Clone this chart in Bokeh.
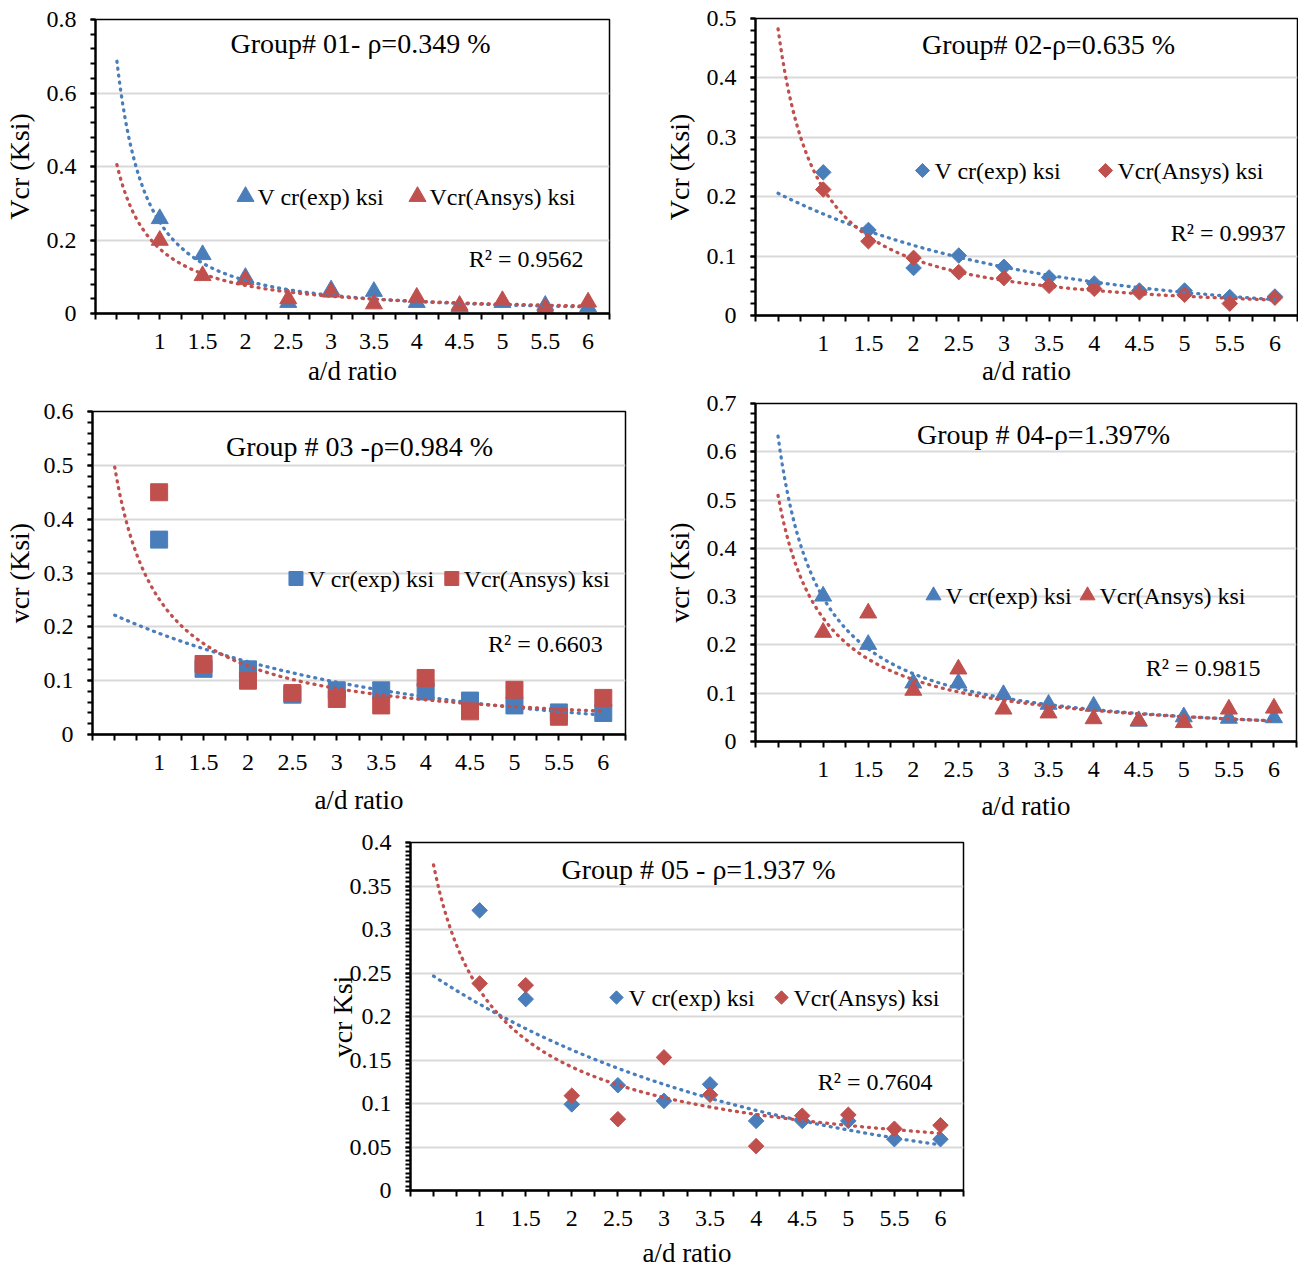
import numpy as np
from bokeh.plotting import figure
from bokeh.models import FixedTicker, Range1d, Label, Spacer
from bokeh.layouts import column, row
from bokeh.embed import file_html
from bokeh.resources import INLINE

# ---------------- data ----------------
ad_ratio = [1, 1.5, 2, 2.5, 3, 3.5, 4, 4.5, 5, 5.5, 6]
x_tick_values = [0.5, 1, 1.5, 2, 2.5, 3, 3.5, 4, 4.5, 5, 5.5, 6]
x_tick_labels = ["", "1", "1.5", "2", "2.5", "3", "3.5", "4", "4.5", "5", "5.5", "6"]

g1_exp = [0.258, 0.160, 0.098, 0.030, 0.064, 0.060, 0.030, 0.018, 0.030, 0.022, 0.018]
g1_ansys = [0.199, 0.103, 0.092, 0.040, 0.058, 0.026, 0.044, 0.022, 0.035, 0.015, 0.031]
g2_exp = [0.241, 0.144, 0.080, 0.101, 0.082, 0.064, 0.054, 0.042, 0.042, 0.031, 0.032]
g2_ansys = [0.212, 0.125, 0.097, 0.073, 0.063, 0.050, 0.045, 0.039, 0.035, 0.020, 0.030]
g3_exp = [0.362, 0.122, 0.121, 0.074, 0.082, 0.082, 0.080, 0.063, 0.054, 0.041, 0.040]
g3_ansys = [0.450, 0.131, 0.100, 0.077, 0.066, 0.054, 0.105, 0.043, 0.083, 0.033, 0.068]
g4_exp = [0.301, 0.201, 0.121, 0.121, 0.097, 0.077, 0.073, 0.042, 0.051, 0.048, 0.049]
g4_ansys = [0.226, 0.266, 0.106, 0.150, 0.067, 0.059, 0.047, 0.043, 0.039, 0.067, 0.069]
g5_exp = [0.322, 0.220, 0.099, 0.121, 0.103, 0.122, 0.080, 0.080, 0.080, 0.059, 0.059]
g5_ansys = [0.238, 0.236, 0.109, 0.082, 0.153, 0.110, 0.051, 0.086, 0.087, 0.071, 0.075]

g1_yticks = [0, 0.2, 0.4, 0.6, 0.8]
g2_yticks = [0, 0.1, 0.2, 0.3, 0.4, 0.5]
g3_yticks = [0, 0.1, 0.2, 0.3, 0.4, 0.5, 0.6]
g4_yticks = [0, 0.1, 0.2, 0.3, 0.4, 0.5, 0.6, 0.7]
g5_yticks = [0, 0.05, 0.1, 0.15, 0.2, 0.25, 0.3, 0.35, 0.4]

titles = ["Group# 01- \u03c1=0.349 %", "Group# 02-\u03c1=0.635 %", "Group # 03 -\u03c1=0.984 %",
          "Group # 04-\u03c1=1.397%", "Group # 05 - \u03c1=1.937 %"]
r2_texts = ["R\u00b2 = 0.9562", "R\u00b2 = 0.9937", "R\u00b2 = 0.6603", "R\u00b2 = 0.9815", "R\u00b2 = 0.7604"]
y_titles = ["Vcr (Ksi)", "Vcr (Ksi)", "vcr (Ksi)", "vcr (Ksi)", "vcr Ksi"]
x_title = "a/d ratio"
legend_labels = ["V cr(exp) ksi", "Vcr(Ansys) ksi"]

FONT = "Liberation Serif"
BLUE = "#4a7ebb"
RED = "#c0504d"


def trend(vals, kind):
    x = np.array(ad_ratio, dtype=float)
    y = np.array(vals, dtype=float)
    xs = np.linspace(0.5, 6, 240)
    if kind == "power":
        b, lna = np.polyfit(np.log(x), np.log(y), 1)
        return xs, np.exp(lna) * xs ** b
    k, lna = np.polyfit(x, np.log(y), 1)
    return xs, np.exp(lna) * np.exp(k * xs)


def marker_kw(mk, size):
    if mk == "diamond":
        return dict(marker="square", size=size, angle=np.pi / 4)
    if mk == "square":
        return dict(marker="square", size=size, angle=0)
    return dict(marker="triangle", size=size, angle=0)


def make_panel(spec, yticks, exp_vals, ansys_vals, idx):
    l, r, t, b = spec["borders"]
    fw, fh = spec["frame"]
    ox, oy = spec["origin"]
    ymax = yticks[-1]
    p = figure(width=l + fw + r, height=t + fh + b,
               x_range=Range1d(0.25, 6.25), y_range=Range1d(0, ymax),
               output_backend="svg", toolbar_location=None, frame_align=False,
               min_border_left=l, min_border_right=r, min_border_top=t, min_border_bottom=b)
    p.outline_line_color = "black"
    p.outline_line_width = 1.5
    p.background_fill_color = "white"
    p.border_fill_color = "white"

    fl, ft = ox + l, oy + t

    def to_data(ax, ay):
        return 0.25 + (ax - fl) / fw * 6.0, ymax * (ft + fh - ay) / fh

    # x axis
    minor_x = [0.25 + 0.5 * i for i in range(13)]
    p.xaxis.ticker = FixedTicker(ticks=x_tick_values, minor_ticks=minor_x)
    p.xaxis.major_label_overrides = {v: s for v, s in zip(x_tick_values, x_tick_labels)}
    # y axis
    step = yticks[1] - yticks[0]
    nmin = spec["yminor"]
    minor_y = [i * step / nmin for i in range(int(round(ymax / step * nmin)) + 1)]
    p.yaxis.ticker = FixedTicker(ticks=yticks, minor_ticks=minor_y)
    p.yaxis.major_label_overrides = {v: f"{v:g}" for v in yticks}

    p.axis.major_label_text_font = FONT
    p.axis.major_label_text_font_size = "24px"
    p.axis.major_label_text_color = "black"
    p.axis.axis_label_text_font = FONT
    p.axis.axis_label_text_font_style = "normal"
    p.axis.axis_label_text_color = "black"
    p.xaxis.axis_label_text_font_size = "27px"
    p.yaxis.axis_label_text_font_size = "28px"
    p.axis.axis_line_color = "black"
    p.axis.axis_line_width = 2.3
    p.axis.major_tick_line_color = "black"
    p.axis.minor_tick_line_color = "black"
    p.axis.major_tick_line_width = 2
    p.axis.minor_tick_line_width = 2
    p.axis.major_tick_in = 0
    p.axis.minor_tick_in = 0
    p.xaxis.major_tick_out = 6
    p.xaxis.minor_tick_out = 6
    p.yaxis.major_tick_out = 5
    p.yaxis.minor_tick_out = 5
    p.xaxis.major_label_standoff = 14
    p.yaxis.major_label_standoff = 14
    p.xaxis.axis_label = x_title
    p.yaxis.axis_label = y_titles[idx]
    p.xaxis.axis_label_standoff = spec["xlab_standoff"]
    p.yaxis.axis_label_standoff = spec["ylab_standoff"]

    p.xgrid.visible = False
    p.ygrid.ticker = FixedTicker(ticks=yticks)
    p.ygrid.grid_line_color = "#d9d9d9"
    p.ygrid.grid_line_width = 2

    mk = spec["marker"]
    kw = marker_kw(mk, spec["msize"])
    p.scatter(ad_ratio, exp_vals, fill_color=BLUE, line_color=BLUE, **kw)
    p.scatter(ad_ratio, ansys_vals, fill_color=RED, line_color=RED, **kw)

    kb, kr = spec["trend"]
    xs, ys = trend(exp_vals, kb)
    p.line(xs, ys, line_color=BLUE, line_width=3.3, line_dash="1 6", line_cap="round")
    xs, ys = trend(ansys_vals, kr)
    p.line(xs, ys, line_color=RED, line_width=3.3, line_dash="1 6", line_cap="round")

    # legend: key symbol + text for each series, placed like the original
    lkw = marker_kw(mk, spec["lsize"])
    for lab, col, (cx, cy) in zip(legend_labels, [BLUE, RED], spec["legend"]):
        kx, ky = to_data(cx, cy)
        p.scatter([kx], [ky], fill_color=col, line_color=col, **lkw)
        lx, ly = to_data(cx + 12, cy)
        p.add_layout(Label(x=lx, y=ly, text=lab, text_font=FONT, text_font_size="24px",
                           text_align="left", text_baseline="middle", text_color="black"))

    tx, ty = to_data(*spec["title_pos"])
    p.add_layout(Label(x=tx, y=ty, text=titles[idx], text_font=FONT, text_font_size="28px",
                       text_align="center", text_baseline="middle", text_color="black"))
    rx, ry = to_data(*spec["r2_pos"])
    p.add_layout(Label(x=rx, y=ry, text=r2_texts[idx], text_font=FONT, text_font_size="24px",
                       text_align="right", text_baseline="middle", text_color="black"))
    return p


specs = [
    dict(origin=(0, 0), borders=(95, 51, 19, 82), frame=(514, 294), yminor=5,
         marker="triangle", msize=17, lsize=17, trend=("power", "power"),
         legend=[(245, 196), (417, 196)],
         title_pos=(360, 43), r2_pos=(583, 258), xlab_standoff=4, ylab_standoff=9),
    dict(origin=(660, 0), borders=(95, 1, 18, 74), frame=(542, 297), yminor=5,
         marker="diamond", msize=11, lsize=10, trend=("exp", "power"),
         legend=[(922, 170), (1105, 170)],
         title_pos=(1048, 44), r2_pos=(1285, 232), xlab_standoff=2, ylab_standoff=9),
    dict(origin=(0, 395), borders=(88, 35, 16, 91), frame=(537, 323), yminor=5,
         marker="square", msize=17, lsize=14, trend=("exp", "power"),
         legend=[(293, 578), (450, 578)],
         title_pos=(357, 446), r2_pos=(602, 643), xlab_standoff=12, ylab_standoff=6),
    dict(origin=(660, 389), borders=(95, 2, 14, 84), frame=(541, 338), yminor=5,
         marker="triangle", msize=17, lsize=15, trend=("power", "power"),
         legend=[(933, 595), (1087, 595)],
         title_pos=(1043, 434), r2_pos=(1260, 667), xlab_standoff=11, ylab_standoff=9),
    dict(origin=(322, 825), borders=(88, 20, 17, 80), frame=(553, 348), yminor=10,
         marker="diamond", msize=11, lsize=9.5, trend=("exp", "power"),
         legend=[(616, 997), (781, 997)],
         title_pos=(698, 869), r2_pos=(932, 1081), xlab_standoff=9, ylab_standoff=-11),
]

p1 = make_panel(specs[0], g1_yticks, g1_exp, g1_ansys, 0)
p2 = make_panel(specs[1], g2_yticks, g2_exp, g2_ansys, 1)
p3 = make_panel(specs[2], g3_yticks, g3_exp, g3_ansys, 2)
p4 = make_panel(specs[3], g4_yticks, g4_exp, g4_ansys, 3)
p5 = make_panel(specs[4], g5_yticks, g5_exp, g5_ansys, 4)

layout = column(row(column(p1, p3), column(p2, p4)),
                row(Spacer(width=322, height=445), p5))
open("out.html", "w").write(file_html(layout, INLINE))
